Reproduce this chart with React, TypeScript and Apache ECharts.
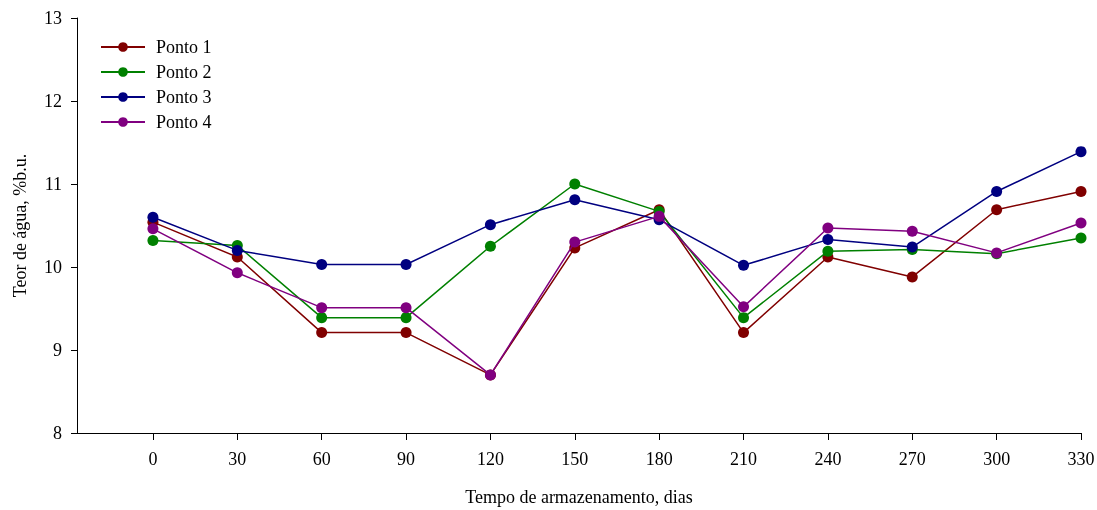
import React, { useEffect, useRef } from "react";
import * as echarts from "echarts";

const days = [0, 30, 60, 90, 120, 150, 180, 210, 240, 270, 300, 330];
const ponto1 = [10.54, 10.12, 9.21, 9.21, 8.70, 10.23, 10.69, 9.21, 10.12, 9.88, 10.69, 10.91];
const ponto2 = [10.32, 10.26, 9.39, 9.39, 10.25, 11.0, 10.67, 9.39, 10.19, 10.21, 10.16, 10.35];
const ponto3 = [10.6, 10.2, 10.03, 10.03, 10.51, 10.81, 10.57, 10.02, 10.33, 10.24, 10.91, 11.39];
const ponto4 = [10.46, 9.93, 9.51, 9.51, 8.7, 10.3, 10.61, 9.52, 10.47, 10.43, 10.17, 10.53];
const seriesNames = ["Ponto 1", "Ponto 2", "Ponto 3", "Ponto 4"];
const seriesColors = ["#800000", "#008000", "#000080", "#800080"];
const xTicks = [0, 30, 60, 90, 120, 150, 180, 210, 240, 270, 300, 330];

const FONT = "Liberation Serif";

export default function App() {
  const ref = useRef<HTMLDivElement>(null);
  useEffect(() => {
    if (!ref.current) return;
    const chart = echarts.init(ref.current, null, { renderer: "svg" });
    const all = [ponto1, ponto2, ponto3, ponto4];
    chart.setOption({
      animation: false,
      textStyle: { fontFamily: FONT, color: "#000" },
      grid: { left: 77, right: 16, top: 18, bottom: 77, containLabel: false, outerBoundsMode: "none" },
      legend: {
        orient: "vertical",
        left: 100,
        top: 38,
        padding: 0,
        itemWidth: 44,
        itemHeight: 12,
        itemGap: 7,
        data: seriesNames,
        textStyle: { fontFamily: FONT, fontSize: 18, color: "#000", lineHeight: 18, padding: [0, 0, 0, 6] },
      },
      xAxis: {
        type: "value",
        min: -27,
        max: 330,
        name: "Tempo de armazenamento, dias",
        nameLocation: "middle",
        nameGap: 55,
        nameTextStyle: { fontFamily: FONT, fontSize: 18, color: "#000" },
        axisLine: { show: true, onZero: false, lineStyle: { color: "#000", width: 1 } },
        axisTick: { show: true, length: 7, inside: false, customValues: xTicks, lineStyle: { color: "#000" } },
        axisLabel: {
          customValues: xTicks,
          fontFamily: FONT,
          fontSize: 18,
          color: "#000",
          margin: 17,
        },
        splitLine: { show: false },
      },
      yAxis: {
        type: "value",
        min: 8,
        max: 13,
        interval: 1,
        name: "Teor de água, %b.u.",
        nameLocation: "middle",
        nameGap: 48,
        nameTextStyle: { fontFamily: FONT, fontSize: 18, color: "#000" },
        axisLine: { show: true, onZero: false, lineStyle: { color: "#000", width: 1 } },
        axisTick: { show: true, length: 6, lineStyle: { color: "#000" } },
        axisLabel: { fontFamily: FONT, fontSize: 18, color: "#000", margin: 15 },
        splitLine: { show: false },
      },
      series: seriesNames.map((name, i) => ({
        name,
        type: "line",
        data: days.map((d, j) => [d, all[i][j]]),
        symbol: "circle",
        symbolSize: 11,
        color: seriesColors[i],
        lineStyle: { color: seriesColors[i], width: 1.5 },
        itemStyle: { color: seriesColors[i] },
        z: 2 + i,
      })),
    });
    return () => chart.dispose();
  }, []);
  return (
    <div
      ref={ref}
      style={{ position: "fixed", left: 0, top: 0, width: 1097, height: 510 }}
    />
  );
}
